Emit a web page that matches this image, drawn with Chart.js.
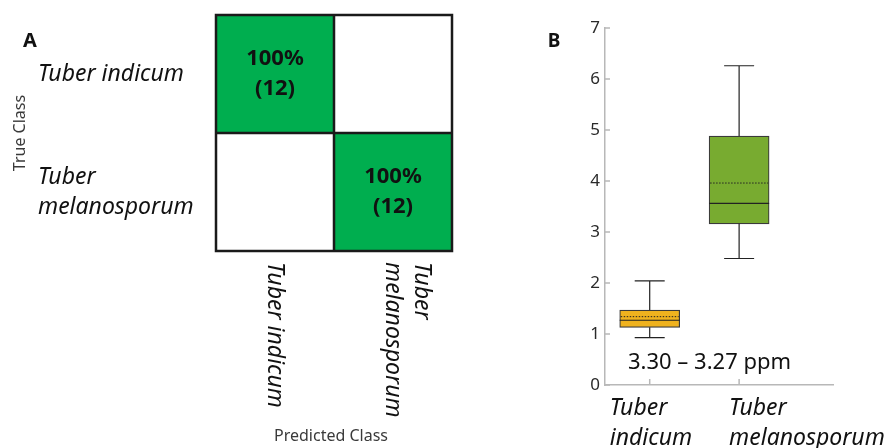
<!DOCTYPE html>
<html>
<head>
<meta charset="utf-8">
<script src="https://cdn.jsdelivr.net/npm/chart.js@4.4.0/dist/chart.umd.min.js"></script>
<style>
  html, body { margin: 0; padding: 0; background: #fff; }
  body { width: 889px; height: 448px; position: relative; overflow: hidden; }
  #confusion { position: absolute; left: 0; top: 0; }
  #boxplot { position: absolute; left: 480px; top: 0; }
</style>
</head>
<body>
<canvas id="confusion" width="480" height="448"></canvas>
<canvas id="boxplot" width="409" height="448"></canvas>
<script>
// panel A: confusion matrix (rows = true class, columns = predicted class)
const classes = ["Tuber indicum", "Tuber melanosporum"];
const classLines = [["Tuber indicum"], ["Tuber", "melanosporum"]];
const confusionCounts = [[12, 0], [0, 12]];
const confusionPercent = [[100, 0], [0, 100]];

// panel B: box plot of the 3.30 - 3.27 ppm region
const boxLabels = [["Tuber", "indicum"], ["Tuber", "melanosporum"]];
const boxMin = [0.93, 2.48];
const boxQ1 = [1.13, 3.16];
const boxMedian = [1.27, 3.56];
const boxMean = [1.34, 3.96];
const boxQ3 = [1.47, 4.88];
const boxMax = [2.04, 6.26];
const yTicks = [0, 1, 2, 3, 4, 5, 6, 7];
const rangeLabel = "3.30 \u2013 3.27 ppm";

const FONT = "'Noto Sans', 'Open Sans', sans-serif";
const GREEN = "#00ae4f";
const boxColors = ["#efb21e", "#78ab30"];
const AXIS = "#b8b8b8";

const matrixDecor = {
  id: "matrixDecor",
  afterDatasetsDraw(chart) {
    const { ctx, chartArea: a, scales: { x, y } } = chart;
    const n = classes.length;
    ctx.save();

    // values in the cells
    ctx.fillStyle = "#111";
    ctx.textAlign = "center";
    ctx.textBaseline = "middle";
    ctx.font = `bold 22px ${FONT}`;
    chart.data.datasets.forEach((ds, r) => {
      chart.getDatasetMeta(r).data.forEach((bar, c) => {
        if (!confusionCounts[r][c]) return;
        const cy = (bar.y + bar.base) / 2;
        ctx.fillText(confusionPercent[r][c] + "%", bar.x, cy - 15);
        ctx.fillText("(" + confusionCounts[r][c] + ")", bar.x, cy + 15);
      });
    });

    // grid
    ctx.strokeStyle = "#1a1a1a";
    ctx.lineWidth = 2.5;
    ctx.strokeRect(a.left, a.top, a.width, a.height);
    ctx.beginPath();
    for (let i = 1; i < n; i++) {
      const gx = (x.getPixelForValue(i - 1) + x.getPixelForValue(i)) / 2;
      const gy = y.getPixelForValue(i);
      ctx.moveTo(gx, a.top);
      ctx.lineTo(gx, a.bottom);
      ctx.moveTo(a.left, gy);
      ctx.lineTo(a.right, gy);
    }
    ctx.stroke();

    // row labels
    ctx.font = `italic 23px ${FONT}`;
    ctx.textAlign = "left";
    classLines.forEach((lines, r) => {
      const cy = y.getPixelForValue(n - r - 0.5);
      lines.forEach((t, k) => {
        ctx.fillText(t, 38, cy + (k - (lines.length - 1) / 2) * 30);
      });
    });

    // column labels, turned clockwise; last line sits on the column centre
    classLines.forEach((lines, c) => {
      const cx = x.getPixelForValue(c);
      ctx.save();
      ctx.translate(cx, a.bottom + 11);
      ctx.rotate(Math.PI / 2);
      lines.forEach((t, k) => {
        ctx.fillText(t, 0, (k - (lines.length - 1)) * 29);
      });
      ctx.restore();
    });

    // axis titles
    ctx.fillStyle = "#3a3a3a";
    ctx.font = `16px ${FONT}`;
    ctx.textAlign = "center";
    ctx.fillText("Predicted Class", (a.left + a.right) / 2 - 3, 436);
    ctx.save();
    ctx.translate(20, (a.top + a.bottom) / 2);
    ctx.rotate(-Math.PI / 2);
    ctx.fillText("True Class", 0, 0);
    ctx.restore();

    ctx.fillStyle = "#111";
    ctx.font = `bold 20px ${FONT}`;
    ctx.fillText("A", 30, 41);
    ctx.restore();
  },
};

new Chart(document.getElementById("confusion"), {
  type: "bar",
  data: {
    labels: classes,
    datasets: classes.map((name, r) => ({
      label: name,
      data: classes.map(() => [classes.length - 1 - r, classes.length - r]),
      backgroundColor: confusionCounts[r].map((v) => (v > 0 ? GREEN : "#ffffff")),
      borderWidth: 0,
      grouped: false,
      barPercentage: 1,
      categoryPercentage: 1,
    })),
  },
  options: {
    responsive: false,
    animation: false,
    devicePixelRatio: 1,
    layout: { padding: { left: 216, right: 28, top: 15, bottom: 197 } },
    plugins: { legend: { display: false }, tooltip: { enabled: false } },
    scales: {
      x: { type: "category", display: false },
      y: { type: "linear", min: 0, max: classes.length, display: false },
    },
  },
  plugins: [matrixDecor],
});

const boxDecor = {
  id: "boxDecor",
  afterDatasetsDraw(chart) {
    const { ctx, chartArea: a, scales: { x, y } } = chart;
    const bars = chart.getDatasetMeta(0).data;
    ctx.save();

    bars.forEach((bar, i) => {
      const cx = bar.x;
      const half = bar.width / 2;
      const cap = bar.width / 4;
      ctx.strokeStyle = "#222";
      ctx.lineWidth = 1.2;
      ctx.setLineDash([]);
      ctx.beginPath();
      ctx.moveTo(cx, y.getPixelForValue(boxQ3[i]));
      ctx.lineTo(cx, y.getPixelForValue(boxMax[i]));
      ctx.moveTo(cx - cap, y.getPixelForValue(boxMax[i]));
      ctx.lineTo(cx + cap, y.getPixelForValue(boxMax[i]));
      ctx.moveTo(cx, y.getPixelForValue(boxQ1[i]));
      ctx.lineTo(cx, y.getPixelForValue(boxMin[i]));
      ctx.moveTo(cx - cap, y.getPixelForValue(boxMin[i]));
      ctx.lineTo(cx + cap, y.getPixelForValue(boxMin[i]));
      ctx.moveTo(cx - half, y.getPixelForValue(boxMedian[i]));
      ctx.lineTo(cx + half, y.getPixelForValue(boxMedian[i]));
      ctx.stroke();

      ctx.lineWidth = 1;
      ctx.setLineDash([1.5, 1.5]);
      ctx.beginPath();
      ctx.moveTo(cx - half + 1, y.getPixelForValue(boxMean[i]));
      ctx.lineTo(cx + half - 1, y.getPixelForValue(boxMean[i]));
      ctx.stroke();
    });
    ctx.setLineDash([]);

    // inward ticks
    ctx.strokeStyle = AXIS;
    ctx.lineWidth = 1.5;
    ctx.beginPath();
    yTicks.forEach((v) => {
      const py = y.getPixelForValue(v);
      ctx.moveTo(a.left, py);
      ctx.lineTo(a.left + 5, py);
    });
    boxLabels.forEach((l, i) => {
      const px = x.getPixelForValue(i + 1);
      ctx.moveTo(px, a.bottom);
      ctx.lineTo(px, a.bottom - 6);
    });
    ctx.stroke();

    // category labels
    const shift = [-40, -10];
    ctx.fillStyle = "#111";
    ctx.font = `italic 23px ${FONT}`;
    ctx.textAlign = "left";
    ctx.textBaseline = "middle";
    boxLabels.forEach((lines, i) => {
      const px = x.getPixelForValue(i + 1) + shift[i];
      lines.forEach((t, k) => ctx.fillText(t, px, a.bottom + 23 + k * 30));
    });

    ctx.font = `22px ${FONT}`;
    ctx.fillText(rangeLabel, a.left + 23, y.getPixelForValue(0.45) + 1);

    ctx.font = `bold 19px ${FONT}`;
    ctx.textAlign = "center";
    ctx.fillText("B", 74, 42);
    ctx.restore();
  },
};

new Chart(document.getElementById("boxplot"), {
  type: "bar",
  data: {
    datasets: [{
      data: boxLabels.map((l, i) => ({ x: i + 1, y: [boxQ1[i], boxQ3[i]] })),
      backgroundColor: boxColors,
      borderColor: "#3a3a3a",
      borderWidth: 1.2,
      borderSkipped: false,
      barThickness: 60,
    }],
  },
  options: {
    responsive: false,
    animation: false,
    devicePixelRatio: 1,
    layout: { padding: { left: 95, right: 56, top: 28, bottom: 3 } },
    plugins: { legend: { display: false }, tooltip: { enabled: false } },
    scales: {
      x: {
        type: "linear",
        min: 0.5,
        max: 3.05,
        offset: false,
        ticks: { display: false },
        grid: { display: false, drawTicks: false, offset: false },
        border: { color: AXIS, width: 1.5 },
        afterFit: (s) => { s.height = 60; },
      },
      y: {
        type: "linear",
        min: 0,
        max: 7,
        afterBuildTicks: (s) => { s.ticks = yTicks.map((v) => ({ value: v })); },
        ticks: { color: "#2a2a2a", padding: 5, font: { family: FONT, size: 17 } },
        grid: { display: false, drawTicks: false },
        border: { color: AXIS, width: 1.5 },
        afterFit: (s) => { s.width = 30; },
      },
    },
  },
  plugins: [boxDecor],
});
</script>
</body>
</html>
